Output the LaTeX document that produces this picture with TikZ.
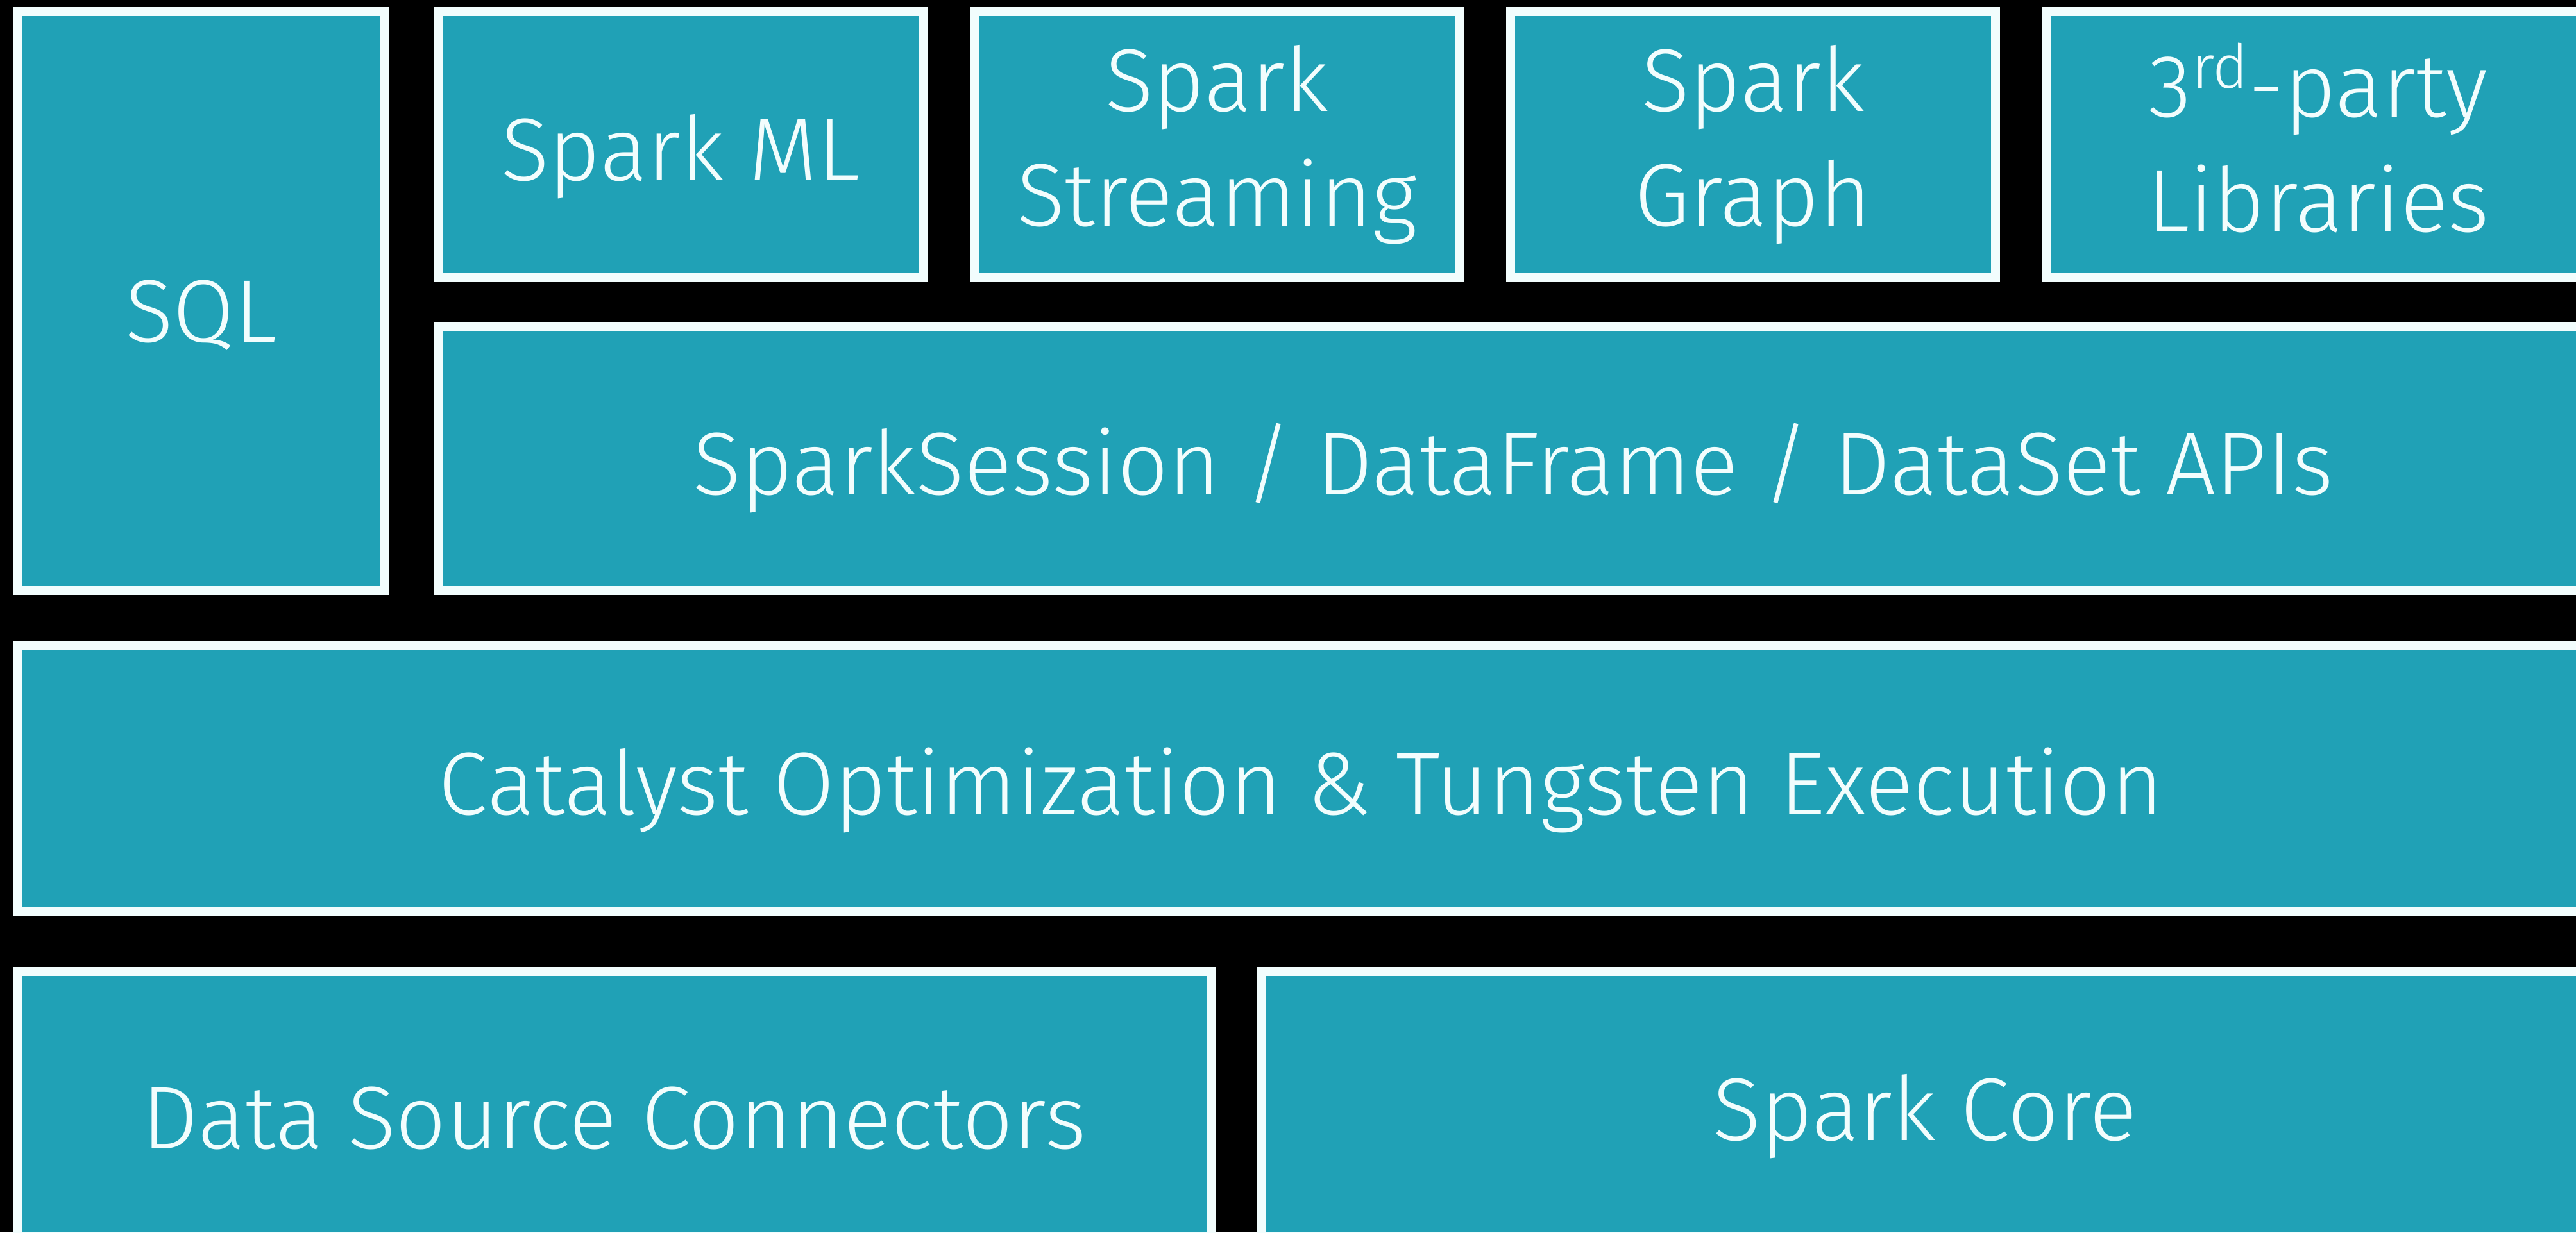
\documentclass[tikz,border=0pt]{standalone}
\usepackage{fontspec}
\setmainfont{Fira Sans Light}
\usepackage{tikz}
\usetikzlibrary{positioning}
\definecolor{sparkteal}{RGB}{32,161,182}
\definecolor{rim}{RGB}{242,253,253}
\newcommand{\supth}[1]{\smash{\raisebox{12.8pt}{\fontsize{27}{30}\selectfont #1}}}
\tikzset{layer/.style={rectangle,draw=rim,line width=0.14cm,fill=sparkteal,text=rim,
        align=center,font=\fontsize{39.5}{51}\selectfont,
        execute at begin node={\rule{0pt}{40pt}}}}
\tikzset{lib/.style={layer,minimum width=7.56cm,minimum height=4.15cm}}

\begin{document}
\begin{tikzpicture}
                \fill[black] (0,0) rectangle (40.16,-19.22);
                \useasboundingbox (0,0) rectangle (40.16,-19.22);
                \clip (0,0) rectangle (40.16,-19.22);
                \node[layer,minimum width=5.73cm,minimum height=9.03cm,anchor=north west] (sql) at (0.2,-0.11) {SQL};
                \node[lib] (ml) [below right=0cm and 0.69cm of sql.north east] {Spark ML};
                \node[lib] (stream) [right=0.66cm of ml] {Spark\\Streaming};
                \node[lib] (graph) [right=0.66cm of stream] {Spark\\Graph};
                \node[lib,minimum width=8.46cm] (third) [right=0.66cm of graph] {3\supth{rd}-party\\Libraries};
                \node[layer,minimum width=33.52cm,minimum height=4.12cm] (api) [below right=0.62cm and 0cm of ml.south west] {SparkSession / DataFrame / DataSet APIs};
                \node[layer,minimum width=40.02cm,minimum height=4.14cm] (cat) [below right=0.72cm and 0cm of sql.south west] {Catalyst Optimization \& Tungsten Execution};
                \node[layer,minimum width=18.61cm,minimum height=4.14cm] (dsc) [below right=0.8cm and 0cm of cat.south west] {Data Source Connectors};
                \node[layer,minimum width=20.7cm,minimum height=4.14cm] (core) [right=0.64cm of dsc] {Spark Core};
            \end{tikzpicture}
\end{document}
